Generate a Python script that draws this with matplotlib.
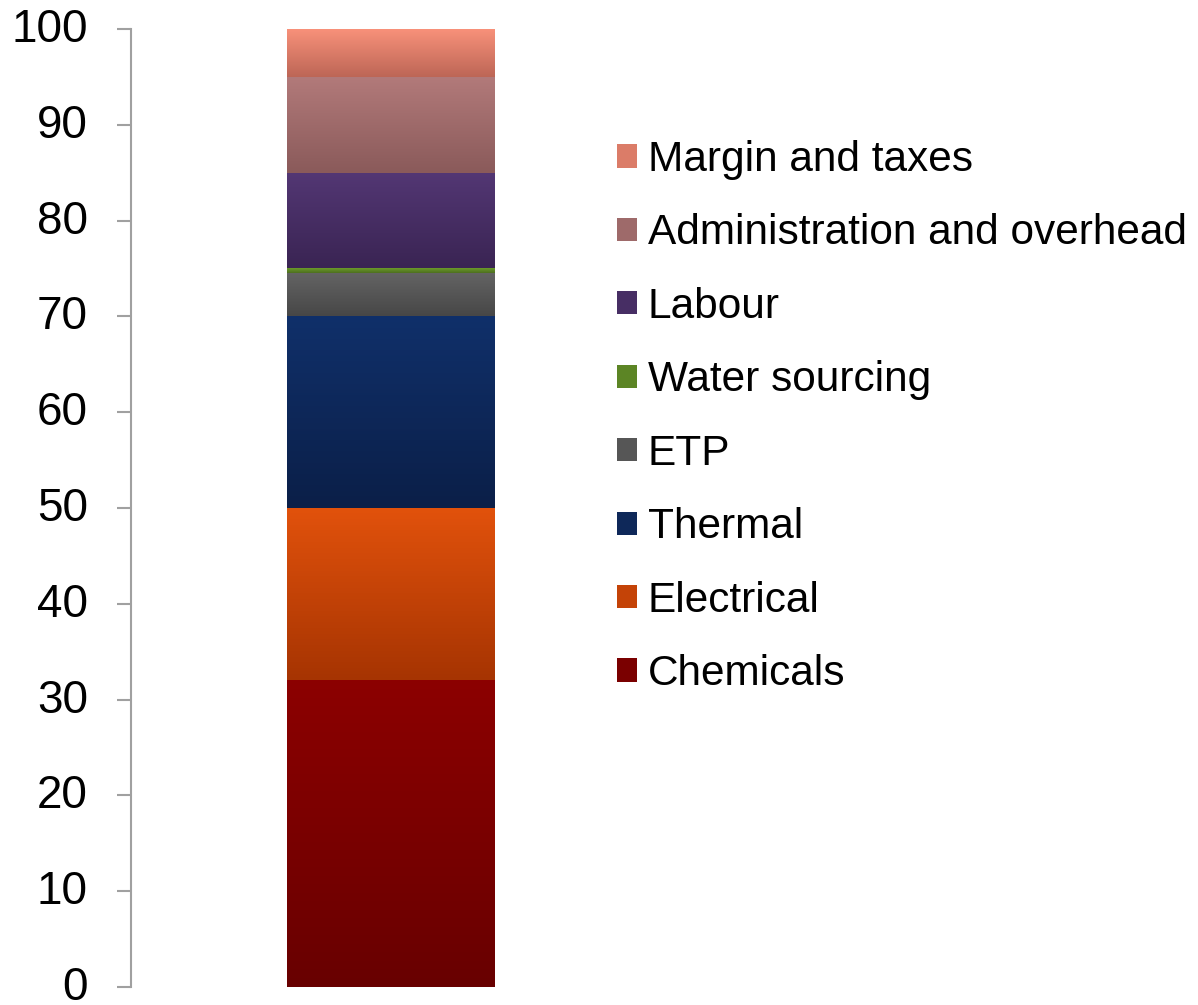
import numpy as np
import matplotlib.pyplot as plt
from matplotlib.patches import Patch
from matplotlib.colors import LinearSegmentedColormap
from matplotlib.transforms import ScaledTranslation

plt.rcParams['font.family'] = ['Liberation Sans', 'DejaVu Sans']

# cost shares (%), bottom to top
categories = ['Chemicals', 'Electrical', 'Thermal', 'ETP', 'Water sourcing',
              'Labour', 'Administration and overhead', 'Margin and taxes']
values = [32, 18, 20, 4.5, 0.5, 10, 10, 5]
# gradient colours per segment (top, bottom)
top_colors = ['#8c0000', '#e2520c', '#10306a', '#646464', '#6a9a2a',
              '#533774', '#b27a7a', '#f8917a']
bottom_colors = ['#680000', '#a63402', '#0b1f48', '#474747', '#4e6f1f',
                 '#3a2453', '#8a5a5a', '#bd6656']
yticks = [0, 10, 20, 30, 40, 50, 60, 70, 80, 90, 100]

fig = plt.figure(figsize=(11.98, 10.05), dpi=100)
ax = fig.add_axes([131/1198, 1-987/1005, 520/1198, (987-29)/1005])

bottoms = np.concatenate([[0], np.cumsum(values)[:-1]])
bars = ax.bar([0]*len(values), values, bottom=bottoms, width=0.4,
              color='none', edgecolor='none')

grad = np.linspace(1, 0, 256).reshape(-1, 1)
for bar, c_top, c_bot in zip(bars, top_colors, bottom_colors):
    cmap = LinearSegmentedColormap.from_list('g', [c_bot, c_top])
    x0 = bar.get_x()
    y0 = bar.get_y()
    im = ax.imshow(grad, cmap=cmap, vmin=0, vmax=1, aspect='auto',
                   extent=[x0, x0 + bar.get_width(), y0, y0 + bar.get_height()],
                   interpolation='bilinear', zorder=2)
    im.set_clip_path(bar)

ax.set_xlim(-0.5, 0.5)
ax.set_ylim(0, 100)
ax.set_yticks(yticks)
ax.set_xticks([])
for s in ['top', 'right', 'bottom']:
    ax.spines[s].set_visible(False)
ax.spines['left'].set_color('#a0a0a0')
ax.spines['left'].set_linewidth(1.5)
ax.tick_params(axis='y', direction='out', length=10, width=1.5,
               color='#a0a0a0', labelsize=33, pad=21, labelcolor='black')

# nudge tick labels up a little, like the original
shift = ScaledTranslation(0, 4/100, fig.dpi_scale_trans)
for lab in ax.get_yticklabels():
    lab.set_transform(lab.get_transform() + shift)

mid_colors = []
for c_top, c_bot in zip(top_colors, bottom_colors):
    cmap = LinearSegmentedColormap.from_list('g', [c_bot, c_top])
    mid_colors.append(cmap(0.5))

handles = [Patch(facecolor=c, edgecolor='none') for c in mid_colors]
fig.legend(handles[::-1], categories[::-1], loc='upper left',
           bbox_to_anchor=(600/1198, 1-123/1005), frameon=False,
           fontsize=30.5, handlelength=0.47, handleheight=0.47,
           handletextpad=0.26, labelspacing=0.79, borderaxespad=0)

fig.savefig('out.png', dpi=100)
